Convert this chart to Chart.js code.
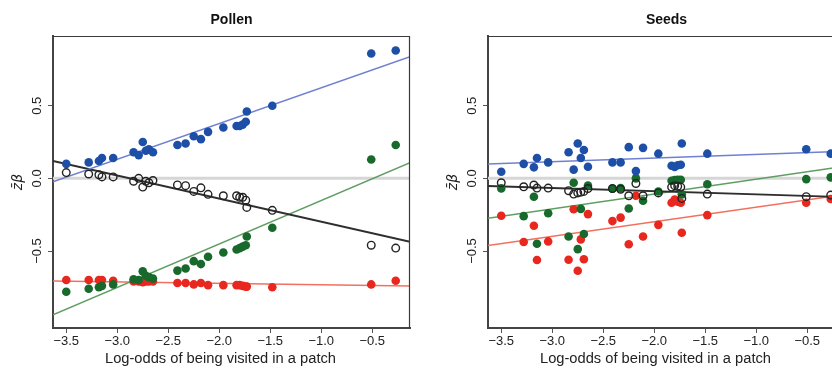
<!DOCTYPE html>
<html>
<head>
<meta charset="utf-8">
<script src="https://cdn.jsdelivr.net/npm/chart.js@4"></script>
<style>
    html, body { margin: 0; padding: 0; background: #fff; overflow: hidden; }
    body { width: 832px; height: 368px; position: relative; }
    .panel { position: absolute; top: 0; width: 420px; height: 368px; }
    #pollenBox { left: 0; }
    #seedsBox { left: 435px; }
</style>
</head>
<body>
<div class="panel" id="pollenBox"><canvas id="pollenChart"></canvas></div>
<div class="panel" id="seedsBox"><canvas id="seedsChart"></canvas></div>
<script>

// SHARED X VALUES (log-odds of being visited in a patch)
const xVals = [-3.50, -3.28, -3.18, -3.15, -3.04, -2.84, -2.79, -2.75, -2.72, -2.69, -2.65,
    -2.41, -2.33, -2.25, -2.18, -2.11, -1.96, -1.83, -1.80, -1.77, -1.74, -1.73, -1.48, -0.51, -0.27];

const xTicks = [-3.5, -3.0, -2.5, -2.0, -1.5, -1.0, -0.5];
const yTicks = [-0.5, 0.0, 0.5];
const xRange = [-3.63, -0.13];
const yRange = [-1.03, 0.98];

// POLLEN
const pollenBlue = [0.10, 0.11, 0.12, 0.14, 0.14, 0.18, 0.16, 0.25, 0.19, 0.20, 0.18,
    0.23, 0.24, 0.29, 0.27, 0.32, 0.35, 0.36, 0.36, 0.37, 0.39, 0.46, 0.50, 0.86, 0.88];
const pollenBlack = [0.04, 0.03, 0.025, 0.01, 0.01, -0.02, 0.0, -0.06, -0.02, -0.03, -0.015,
    -0.045, -0.05, -0.09, -0.065, -0.11, -0.12, -0.12, -0.13, -0.13, -0.15, -0.20, -0.22, -0.46, -0.48];
const pollenGreen = [-0.78, -0.76, -0.75, -0.74, -0.73, -0.695, -0.70, -0.64, -0.67, -0.68, -0.69,
    -0.635, -0.62, -0.57, -0.59, -0.54, -0.51, -0.49, -0.48, -0.47, -0.46, -0.40, -0.34, 0.13, 0.23];
const pollenRed = [-0.70, -0.70, -0.70, -0.70, -0.705, -0.71, -0.71, -0.715, -0.71, -0.71, -0.71,
    -0.72, -0.72, -0.73, -0.72, -0.735, -0.735, -0.735, -0.735, -0.74, -0.745, -0.745, -0.75, -0.73, -0.705];

// fitted lines, value at each end of xRange
const pollenFitBlue = [-0.023, 0.837];
const pollenFitBlack = [0.12, -0.436];
const pollenFitGreen = [-0.94, 0.108];
const pollenFitRed = [-0.706, -0.741];

// SEEDS
const seedsBlue = [0.046, 0.10, 0.076, 0.14, 0.11, 0.18, 0.06, 0.24, 0.14, 0.195, 0.08,
    0.11, 0.11, 0.215, 0.05, 0.21, 0.17, 0.087, 0.078, 0.09, 0.094, 0.24, 0.17, 0.20, 0.17];
const seedsBlack = [-0.03, -0.058, -0.046, -0.067, -0.067, -0.085, -0.108, -0.10, -0.095, -0.09, -0.07,
    -0.07, -0.075, -0.12, -0.035, -0.12, -0.10, -0.06, -0.05, -0.055, -0.06, -0.138, -0.108, -0.126, -0.115];
const seedsGreen = [-0.069, -0.26, -0.127, -0.45, -0.24, -0.40, -0.03, -0.487, -0.21, -0.383, -0.05,
    -0.071, -0.067, -0.207, 0.0, -0.154, -0.09, -0.016, -0.011, -0.01, -0.01, -0.11, -0.04, -0.005, 0.007];
const seedsRed = [-0.257, -0.438, -0.326, -0.562, -0.434, -0.56, -0.213, -0.636, -0.42, -0.557, -0.246,
    -0.294, -0.27, -0.454, -0.12, -0.40, -0.32, -0.168, -0.145, -0.16, -0.168, -0.374, -0.253, -0.168, -0.142];

const seedsFitBlue = [0.099, 0.187];
const seedsFitBlack = [-0.053, -0.129];
const seedsFitGreen = [-0.275, 0.084];
const seedsFitRed = [-0.463, -0.111];

const FONT = "'Liberation Sans', Arial, sans-serif";
const X_TITLE = "Log-odds of being visited in a patch";


function fmt(v) {
    return v.toFixed(1).replace("-", "\u2212");
}

function points(ys) {
    return ys.map((y, i) => ({ x: xVals[i], y: y }));
}

function fitLine(ends) {
    return [{ x: xRange[0], y: ends[0] }, { x: xRange[1], y: ends[1] }];
}


// draws panel title, x title, top/right frame and rotated y tick labels
const framePlugin = {
    id: "frame",
    afterDraw(chart, args, opts) {
        const ctx = chart.ctx;
        const area = chart.chartArea;
        const yScale = chart.scales.y;
        const mid = (area.left + area.right) / 2;

        ctx.save();

        ctx.strokeStyle = "#3a3a3a";
        ctx.lineWidth = 1.2;
        ctx.beginPath();
        ctx.moveTo(area.left, area.top + 0.5);
        ctx.lineTo(area.right - 0.5, area.top + 0.5);
        ctx.lineTo(area.right - 0.5, area.bottom);
        ctx.stroke();

        ctx.fillStyle = "#111";
        ctx.textAlign = "center";
        ctx.textBaseline = "middle";
        ctx.font = "bold 14px " + FONT;
        ctx.fillText(opts.text, mid, 20);

        ctx.fillStyle = "#222";
        ctx.font = "14.7px " + FONT;
        ctx.fillText(X_TITLE, mid - 11, 359);

        ctx.font = "13px " + FONT;
        yTicks.forEach(v => {
            const y = yScale.getPixelForValue(v);
            ctx.save();
            ctx.translate(area.left - 16, y);
            ctx.rotate(-Math.PI / 2);
            ctx.fillText(fmt(v), 0, 0);
            ctx.restore();
        });

        ctx.restore();
    }
};


function renderPanel(canvasId, title, blue, black, green, red, fitBlue, fitBlack, fitGreen, fitRed) {

    const lineSet = (data, color, width) => ({
        type: "scatter",
        data: data,
        showLine: true,
        borderColor: color,
        borderWidth: width,
        pointRadius: 0,
        order: 2
    });

    const dotSet = (data, color) => ({
        type: "scatter",
        data: data,
        backgroundColor: color,
        borderColor: color,
        borderWidth: 0,
        pointRadius: 4.3,
        order: 1
    });

    return new Chart(document.getElementById(canvasId), {
        type: "scatter",
        data: {
            datasets: [
                {
                    type: "scatter",
                    data: fitLine([0, 0]),
                    showLine: true,
                    borderColor: "#d6d6d6",
                    borderWidth: 3,
                    pointRadius: 0,
                    order: 3
                },
                lineSet(fitLine(fitBlue), "#6f80d2", 1.5),
                lineSet(fitLine(fitBlack), "#2e2e2e", 1.9),
                lineSet(fitLine(fitGreen), "#5f9e62", 1.5),
                lineSet(fitLine(fitRed), "#f2705f", 1.5),
                dotSet(points(blue), "#1d4fa6"),
                {
                    type: "scatter",
                    data: points(black),
                    backgroundColor: "rgba(255,255,255,0)",
                    borderColor: "#222",
                    borderWidth: 1.4,
                    pointRadius: 3.8,
                    order: 1
                },
                dotSet(points(green), "#17692c"),
                dotSet(points(red), "#e8281f")
            ]
        },
        options: {
            responsive: false,
            animation: false,
            events: [],
            layout: { padding: { top: 36, right: 10, bottom: 0, left: 0 } },
            plugins: {
                legend: { display: false },
                tooltip: { enabled: false },
                frame: { text: title }
            },
            scales: {
                x: {
                    type: "linear",
                    min: xRange[0],
                    max: xRange[1],
                    afterBuildTicks: s => { s.ticks = xTicks.map(v => ({ value: v })); },
                    afterFit: s => { s.height = 40; },
                    grid: { drawOnChartArea: false, drawTicks: true, tickLength: 5, color: "#555" },
                    border: { display: true, color: "#444", width: 2 },
                    ticks: {
                        padding: 1,
                        color: "#222",
                        font: { family: FONT, size: 13 },
                        callback: v => fmt(v),
                        maxRotation: 0
                    }
                },
                y: {
                    type: "linear",
                    min: yRange[0],
                    max: yRange[1],
                    afterBuildTicks: s => { s.ticks = yTicks.map(v => ({ value: v })); },
                    afterFit: s => { s.width = 53; },
                    grid: { drawOnChartArea: false, drawTicks: true, tickLength: 5, color: "#555" },
                    border: { display: true, color: "#444", width: 2 },
                    ticks: { display: false },
                    title: {
                        display: true,
                        text: "z\u0304\u03B2",
                        color: "#222",
                        font: { family: "'DejaVu Sans', sans-serif", size: 14, style: "italic" },
                        padding: { top: 10, bottom: 0 }
                    }
                }
            }
        },
        plugins: [framePlugin]
    });
}


function sizeCanvas(id) {
    const c = document.getElementById(id);
    c.width = 420;
    c.height = 368;
    c.style.width = "420px";
    c.style.height = "368px";
}

sizeCanvas("pollenChart");
sizeCanvas("seedsChart");

renderPanel("pollenChart", "Pollen", pollenBlue, pollenBlack, pollenGreen, pollenRed,
    pollenFitBlue, pollenFitBlack, pollenFitGreen, pollenFitRed);

renderPanel("seedsChart", "Seeds", seedsBlue, seedsBlack, seedsGreen, seedsRed,
    seedsFitBlue, seedsFitBlack, seedsFitGreen, seedsFitRed);

</script>
</body>
</html>
